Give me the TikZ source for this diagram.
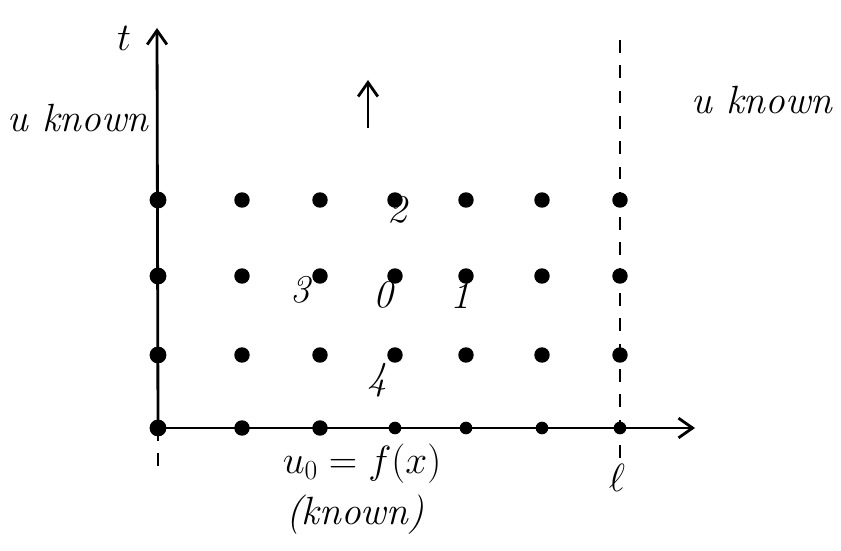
\RequirePackage{fix-cm}
\documentclass[tikz,border=0pt]{standalone}
\usetikzlibrary{arrows.meta}
\tikzset{
  gridpt/.style={circle,fill,inner sep=0pt,minimum size=11pt},
  axispt/.style={gridpt,minimum size=12pt},
  smallpt/.style={gridpt,minimum size=9pt},
  hand/.style={font=\fontsize{28}{33}\selectfont\itshape},
  barb/.style={-{Straight Barb[length=10pt,width=14pt]}},
}
\begin{document}
\begin{tikzpicture}[x=0.025cm,y=-0.025cm,line width=2pt]
\useasboundingbox (0,0) rectangle (841,551);
% axes
\coordinate (O) at (158,428);
\coordinate (xend) at (695,428);
\coordinate (tend) at (157,28);
\coordinate (obot) at (158,466);
\coordinate (ltop) at (620,40);
\coordinate (lbot) at (620,466);
\draw[barb] (O)--(xend);
\draw[barb] (O)--(tend);
\draw[dashed,line width=1.2pt,dash pattern=on 9pt off 9pt] (ltop)--(lbot);
\draw[dashed,line width=1.2pt,dash pattern=on 9pt off 9pt] (O)--(obot);
% grid points
\foreach \x [count=\i] in {242,320,395,466,542,620}
  \foreach \y [count=\j] in {355,276,200}
    \node[gridpt] (p\i\j) at (\x,\y) {};
\foreach \y [count=\j] in {355,276,200}
  \node[axispt] (a\j) at (158,\y) {};
\node[axispt] (o) at (O) {};
\node[gridpt] (b1) at (242,428) {};
\node[gridpt] (b2) at (320,428) {};
\foreach \x [count=\i from 3] in {395,466,542,620}
  \node[smallpt] (b\i) at (\x,428) {};
% labels
\node[hand] (tlab) at (124,38) {$t$};
\node[hand] (uleft) at (78,118) {u known};
\node[hand] (uright) at (762,100) {u known};
\coordinate (upa) at (368,128);
\coordinate (upb) at (368,80);
\draw[barb] (upa)--(upb);
\node[hand] (n2) at (397,210) {2};
\node[hand] (n3) at (300,290) {3};
\node[hand] (n0) at (383,295) {0};
\node[hand] (n1) at (460,295) {1};
\node[hand] (n4) at (377,380) {4};
\node[hand] (init) at (362,464) {$u_0 = f(x)$};
\node[hand] (known) at (355,515) {(known)};
\node[hand] (ell) at (617,478) {$\ell$};
\end{tikzpicture}
\end{document}
